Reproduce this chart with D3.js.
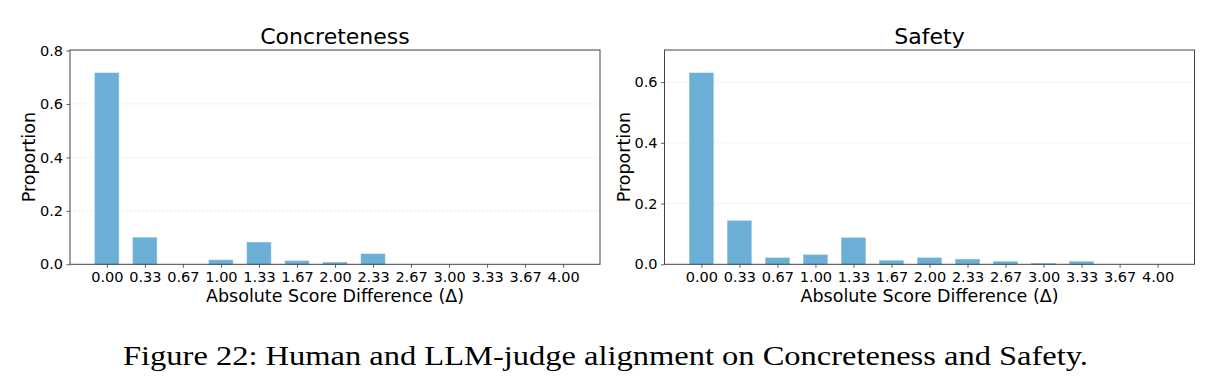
<!DOCTYPE html>
<html>
<head>
<meta charset="utf-8">
<script src="https://cdn.jsdelivr.net/npm/d3@7"></script>
<style>
  html, body { margin: 0; padding: 0; background: #fff; }
  svg { display: block; font-family: "DejaVu Sans", sans-serif; }
</style>
</head>
<body>
<svg id="chart" width="1212" height="390"></svg>
<script>
const categories = ["0.00","0.33","0.67","1.00","1.33","1.67","2.00","2.33","2.67","3.00","3.33","3.67","4.00"];
const concretenessValues = [0.716, 0.100, 0.0, 0.016, 0.0825, 0.0125, 0.0075, 0.0387, 0.0, 0.0, 0.0, 0.0, 0.0];
const safetyValues = [0.630, 0.143, 0.021, 0.031, 0.087, 0.012, 0.021, 0.0165, 0.0086, 0.003, 0.0086, 0.0, 0.0];
const concretenessTicks = [0.0, 0.2, 0.4, 0.6, 0.8];
const safetyTicks = [0.0, 0.2, 0.4, 0.6];
const titles = ["Concreteness", "Safety"];
const xLabel = "Absolute Score Difference (\u0394)";
const yLabel = "Proportion";
const caption = "Figure 22: Human and LLM-judge alignment on Concreteness and Safety.";

(function () {
const svg = d3.select("#chart");
const barColor = "#6baed6";

const panels = [
  { title: titles[0], values: concretenessValues, ticks: concretenessTicks, left: 70, right: 600 },
  { title: titles[1], values: safetyValues, ticks: safetyTicks, left: 664.5, right: 1194.5 }
];
const plotTop = 50, plotBottom = 264.3;
const barWidth = 0.63;

panels.forEach(p => {
  const g = svg.append("g");
  const x = d3.scaleLinear().domain([-0.97, categories.length - 1 + 0.97]).range([p.left, p.right]);
  const ymax = d3.max(p.values) * 1.12;
  const y = d3.scaleLinear().domain([0, ymax]).range([plotBottom, plotTop]);

  // grid
  g.selectAll("line.grid").data(p.ticks.filter(t => t > 0)).enter().append("line")
    .attr("x1", p.left).attr("x2", p.right)
    .attr("y1", d => y(d)).attr("y2", d => y(d))
    .attr("stroke", "#d8d8d8").attr("stroke-width", 0.8)
    .attr("stroke-dasharray", "2,2").attr("opacity", 0.7);

  // bars
  g.selectAll("rect.bar").data(p.values).enter().append("rect")
    .attr("x", (d, i) => x(i - barWidth / 2))
    .attr("width", x(barWidth) - x(0))
    .attr("y", d => y(d))
    .attr("height", d => y(0) - y(d))
    .attr("fill", barColor)
    .attr("stroke", "#8cc0e0").attr("stroke-width", 0.6);

  // axes
  const xAxis = d3.axisBottom(x).tickValues(d3.range(categories.length))
    .tickFormat(i => categories[i]).tickSize(3.5).tickPadding(3.5);
  const gx = g.append("g").attr("transform", `translate(0,${plotBottom})`).call(xAxis);
  gx.select(".domain").remove();
  gx.selectAll("line").attr("stroke", "#333").attr("stroke-width", 0.8);
  gx.selectAll("text").style("font-size", "14.5px").style("font-family", "'DejaVu Sans', sans-serif").attr("fill", "#000");

  const yAxis = d3.axisLeft(y).tickValues(p.ticks).tickFormat(d3.format(".1f"))
    .tickSize(3.5).tickPadding(3.5);
  const gy = g.append("g").attr("transform", `translate(${p.left},0)`).call(yAxis);
  gy.select(".domain").remove();
  gy.selectAll("line").attr("stroke", "#333").attr("stroke-width", 0.8);
  gy.selectAll("text").style("font-size", "14.5px").style("font-family", "'DejaVu Sans', sans-serif").attr("fill", "#000");

  // frame
  g.append("rect").attr("x", p.left).attr("y", plotTop)
    .attr("width", p.right - p.left).attr("height", plotBottom - plotTop)
    .attr("fill", "none").attr("stroke", "#444").attr("stroke-width", 1);

  // title
  g.append("text").attr("x", (p.left + p.right) / 2).attr("y", 43.5)
    .attr("text-anchor", "middle").style("font-size", "22px").text(p.title);

  // x label
  g.append("text").attr("x", (p.left + p.right) / 2).attr("y", 301.5)
    .attr("text-anchor", "middle").style("font-size", "17.5px").text(xLabel);

  // y label
  g.append("text")
    .attr("transform", `translate(${p.left - 35},${(plotTop + plotBottom) / 2}) rotate(-90)`)
    .attr("text-anchor", "middle").style("font-size", "17.5px").text(yLabel);
});

svg.append("text").attr("x", 605.5).attr("y", 365)
  .attr("text-anchor", "middle")
  .style("font-family", "'Liberation Serif', 'DejaVu Serif', serif")
  .style("font-size", "27.5px")
  .attr("textLength", 965).attr("lengthAdjust", "spacingAndGlyphs")
  .text(caption);
})();
</script>
</body>
</html>
